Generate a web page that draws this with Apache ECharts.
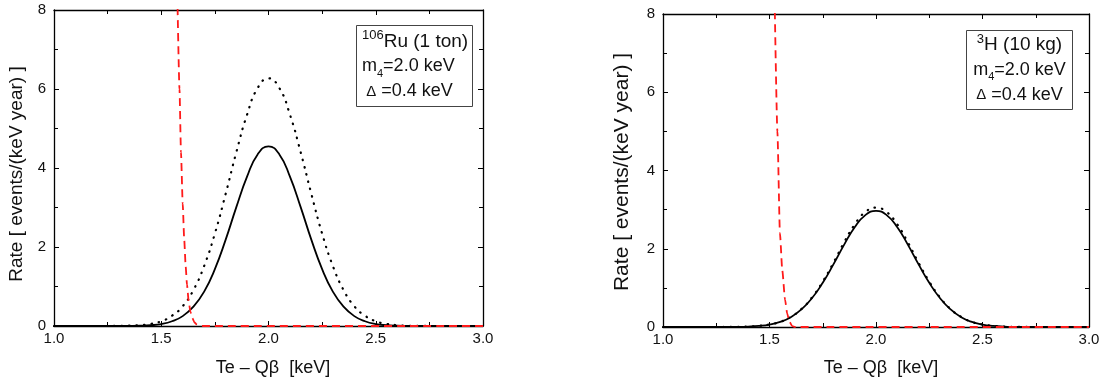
<!DOCTYPE html>
<html><head><meta charset="utf-8">
<script src="https://cdn.jsdelivr.net/npm/echarts@6/dist/echarts.min.js"></script>
<style>html,body{margin:0;padding:0;background:#fff}#c{width:1103px;height:383px}</style>
</head><body><div id="c"></div>
<script>
// Energy grid (keV) for the signal curves
const energyX = [1.0, 1.1, 1.2, 1.3, 1.35, 1.4, 1.45, 1.5, 1.55, 1.6, 1.65, 1.7, 1.75, 1.8, 1.85, 1.9, 1.95,
                 2.0, 2.05, 2.1, 2.15, 2.2, 2.25, 2.3, 2.35, 2.4, 2.45, 2.5, 2.55, 2.6, 2.65, 2.7, 2.8, 2.9, 3.0];
// Left panel: 106Ru (1 ton)
const ruSolid  = [0, 0, 0, 0, 0.002, 0.007, 0.02, 0.05, 0.12, 0.25, 0.49, 0.87, 1.44, 2.18, 3.01, 3.78, 4.35,
                  4.55, 4.35, 3.78, 3.01, 2.18, 1.44, 0.87, 0.49, 0.25, 0.12, 0.05, 0.02, 0.007, 0.002, 0, 0, 0, 0];
const ruDotted = [0, 0, 0, 0.003, 0.008, 0.021, 0.053, 0.12, 0.26, 0.50, 0.91, 1.52, 2.34, 3.34, 4.40, 5.35, 6.03,
                  6.27, 6.03, 5.35, 4.40, 3.34, 2.34, 1.52, 0.91, 0.50, 0.26, 0.12, 0.053, 0.021, 0.008, 0.003, 0, 0, 0];
const ruBkgX = [1.575, 1.585, 1.592, 1.600, 1.607, 1.614, 1.620, 1.628, 1.636, 1.645, 1.655, 1.665, 1.680, 1.700, 3.0];
const ruBkgY = [8.4, 6.0, 4.4, 3.1, 2.2, 1.5, 1.05, 0.62, 0.36, 0.2, 0.09, 0.04, 0.01, 0, 0];
// Right panel: 3H (10 kg)
const hSolid  = [0, 0, 0, 0.001, 0.004, 0.011, 0.028, 0.063, 0.13, 0.25, 0.45, 0.74, 1.13, 1.60, 2.10, 2.55, 2.86,
                 2.97, 2.86, 2.55, 2.10, 1.60, 1.13, 0.74, 0.45, 0.25, 0.13, 0.063, 0.028, 0.011, 0.004, 0.001, 0, 0, 0];
const hDotted = [0, 0, 0, 0.001, 0.004, 0.011, 0.029, 0.065, 0.13, 0.26, 0.46, 0.76, 1.16, 1.64, 2.16, 2.62, 2.94,
                 3.05, 2.94, 2.62, 2.16, 1.64, 1.16, 0.76, 0.46, 0.26, 0.13, 0.065, 0.029, 0.011, 0.004, 0.001, 0, 0, 0];
const hBkgX = [1.524, 1.537, 1.549, 1.560, 1.573, 1.583, 1.593, 1.607, 1.620, 3.0];
const hBkgY = [8.4, 5.0, 2.4, 1.45, 0.7, 0.35, 0.14, 0.02, 0, 0];
// Tick labels
const xTickLabels = ['1.0', '1.5', '2.0', '2.5', '3.0'];
const yTickLabels = ['0', '2', '4', '6', '8'];

const FONT = '"Liberation Sans", Arial, sans-serif';
const chart = echarts.init(document.getElementById('c'), null, {renderer: 'canvas'});

function xAx(g, pos, labels) {
  return {
    type: 'value', gridIndex: g, position: pos, min: 1, max: 3, interval: 0.5,
    axisLine: {show: true, onZero: false, lineStyle: {color: '#000', width: 1.3}},
    axisTick: {show: true, inside: true, length: 5, lineStyle: {color: '#000', width: 1}},
    minorTick: {show: true, splitNumber: 2, length: 4, lineStyle: {color: '#000', width: 1}},
    splitLine: {show: false}, minorSplitLine: {show: false},
    axisLabel: {show: labels, margin: 5, fontSize: 15, fontFamily: FONT, color: '#111',
      formatter: v => xTickLabels[Math.round((v - 1) / 0.5)] ?? ''}
  };
}
function yAx(g, pos, labels) {
  return {
    type: 'value', gridIndex: g, position: pos, min: 0, max: 8, interval: 2,
    axisLine: {show: true, onZero: false, lineStyle: {color: '#000', width: 1.3}},
    axisTick: {show: true, inside: true, length: 5, lineStyle: {color: '#000', width: 1}},
    minorTick: {show: true, splitNumber: 2, length: 4, lineStyle: {color: '#000', width: 1}},
    splitLine: {show: false}, minorSplitLine: {show: false},
    axisLabel: {show: labels, margin: 8, fontSize: 15, fontFamily: FONT, color: '#111',
      formatter: v => yTickLabels[Math.round(v / 2)] ?? ''}
  };
}

function pairs(xs, ys) { return xs.map((x, i) => [x, ys[i]]); }
const solid = {color: '#000', width: 1.8, type: 'solid'};
const dotted = {color: '#000', width: 2.2, type: [0.5, 7], cap: 'round'};
const dashed = {color: '#ff1a1a', width: 1.8, type: [8, 5]};
function line(xi, yi, data, style, smooth, mono) {
  const s = {type: 'line', xAxisIndex: xi, yAxisIndex: yi, data: data, showSymbol: false, symbol: 'none',
    smooth: smooth, lineStyle: style, clip: true, silent: true};
  if (mono) s.smoothMonotone = 'x';
  return s;
}

const rich = {
  n: {fontSize: 18, fontFamily: FONT, lineHeight: 25, color: '#111'},
  n1: {fontSize: 19, fontFamily: FONT, lineHeight: 25, color: '#111'},
  sup: {fontSize: 13, fontFamily: FONT, lineHeight: 14, verticalAlign: 'top', color: '#111'},
  sub: {fontSize: 11, fontFamily: FONT, lineHeight: 8, verticalAlign: 'bottom', color: '#111'},
  d: {fontSize: 15, fontFamily: FONT, lineHeight: 25, color: '#111'}
};

const option = {
  animation: false,
  backgroundColor: '#fff',
  grid: [
    {left: 54, top: 10, width: 429, height: 316},
    {left: 663, top: 14, width: 426, height: 313}
  ],
  xAxis: [xAx(0, 'bottom', true), xAx(0, 'top', false), xAx(1, 'bottom', true), xAx(1, 'top', false)],
  yAxis: [yAx(0, 'left', true), yAx(0, 'right', false), yAx(1, 'left', true), yAx(1, 'right', false)],
  series: [
    line(0, 0, pairs(energyX, ruDotted), dotted, 0.5, false),
    line(0, 0, pairs(energyX, ruSolid), solid, 0.5, false),
    line(0, 0, pairs(ruBkgX, ruBkgY), dashed, 0.2, true),
    line(2, 2, pairs(energyX, hDotted), dotted, 0.5, false),
    line(2, 2, pairs(energyX, hSolid), solid, 0.5, false),
    line(2, 2, pairs(hBkgX, hBkgY), dashed, 0.2, true)
  ],
  graphic: [
    {type: 'rect', shape: {x: 356.5, y: 25.5, width: 116, height: 81},
      style: {fill: '#fff', stroke: '#444', lineWidth: 1}, z: 10},
    {type: 'text', x: 362, y: 29, z: 11,
      style: {text: '{sup|106}{n1|Ru (1 ton)}\n{n|m}{sub|4}{n|=2.0 keV}\n{d| Δ}{n| =0.4 keV}', rich: rich,
        align: 'left', verticalAlign: 'top', fill: '#111'}},
    {type: 'rect', shape: {x: 966.5, y: 30.5, width: 106, height: 79},
      style: {fill: '#fff', stroke: '#444', lineWidth: 1}, z: 10},
    {type: 'text', x: 1019.5, y: 32.5, z: 11,
      style: {text: '{sup|3}{n1|H (10 kg)}\n{n|m}{sub|4}{n|=2.0 keV}\n{d|Δ}{n| =0.4 keV}', rich: rich,
        align: 'center', verticalAlign: 'top', fill: '#111'}},
    {type: 'text', x: 273, y: 368, z: 11,
      style: {text: 'Te – Qβ  [keV]', font: '18px ' + FONT, fill: '#111', align: 'center', verticalAlign: 'middle'}},
    {type: 'text', x: 881, y: 368, z: 11,
      style: {text: 'Te – Qβ  [keV]', font: '18px ' + FONT, fill: '#111', align: 'center', verticalAlign: 'middle'}},
    {type: 'text', x: 17, y: 174, rotation: Math.PI / 2, z: 11,
      style: {text: 'Rate [ events/(keV year) ]', font: '19px ' + FONT, fill: '#111', align: 'center', verticalAlign: 'middle'}},
    {type: 'text', x: 622, y: 172, rotation: Math.PI / 2, z: 11,
      style: {text: 'Rate [ events/(keV year) ]', font: '21px ' + FONT, fill: '#111', align: 'center', verticalAlign: 'middle'}}
  ]
};
chart.setOption(option);
</script>
</body></html>
